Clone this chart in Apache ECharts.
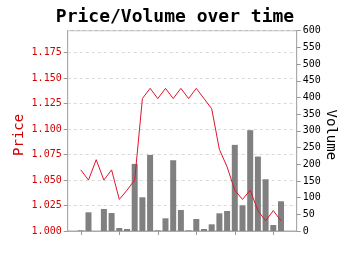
<!DOCTYPE html>
<html>
<head>
<meta charset="utf-8">
<script src="https://cdn.jsdelivr.net/npm/echarts@6/dist/echarts.min.js"></script>
<style>html,body{margin:0;padding:0;background:#fff;}#c{width:350px;height:255px;}</style>
</head>
<body>
<div id="c"></div>
<script>
var titleText = 'Price/Volume over time';
var xTicks = [0, 5, 10, 15, 20, 25];
var volume = [2, 56, 0, 66, 54, 9, 6, 201, 101, 228, 2, 38, 212, 63, 2, 36, 6, 20, 53, 60, 258, 77, 302, 223, 155, 18, 89];
var price = [1.060, 1.050, 1.070, 1.050, 1.060, 1.031, 1.040, 1.050, 1.130, 1.140, 1.130, 1.140, 1.130, 1.140, 1.130, 1.140, 1.130, 1.120, 1.080, 1.063, 1.040, 1.031, 1.040, 1.020, 1.010, 1.020, 1.010];

var red = '#d40000';
var mono = 'DejaVu Sans Mono';
var chart = echarts.init(document.getElementById('c'), null, {renderer: 'canvas'});
chart.setOption({
  animation: false,
  backgroundColor: '#fff',
  title: {
    text: titleText, left: 'center', top: 3,
    textStyle: {fontFamily: mono, fontWeight: 'bold', fontSize: 18, color: '#000'}
  },
  grid: {left: 67.7, right: 53.3, top: 30.7, bottom: 24, show: true, borderColor: '#aaa', borderWidth: 1, containLabel: false},
  xAxis: {
    type: 'value', min: -1.7, max: 28.04,
    axisLine: {onZero: false, lineStyle: {color: '#aaa'}},
    axisTick: {show: true, length: 4, lineStyle: {color: '#999'}, customValues: xTicks},
    axisLabel: {show: false},
    splitLine: {show: false}
  },
  yAxis: [{
    type: 'value', min: 1.0, max: 1.1966, interval: 0.025, position: 'left',
    name: 'Price', nameLocation: 'middle', nameGap: 41, nameRotate: 90, nameMoveOverlap: false,
    nameTextStyle: {fontFamily: mono, fontSize: 14, color: red, padding: [0, 8, 0, 0]},
    axisLine: {show: true, onZero: false, lineStyle: {color: '#aaa'}},
    axisTick: {show: true, length: 4, lineStyle: {color: '#999'}},
    axisLabel: {fontFamily: mono, fontSize: 10, color: red, margin: 6, showMaxLabel: false,
      formatter: function (v) { return v.toFixed(3); }},
    splitLine: {show: true, lineStyle: {color: '#d8d8d8', type: [3, 3], width: 1}}
  }, {
    type: 'value', min: 0, max: 600, interval: 50, position: 'right',
    name: 'Volume', nameLocation: 'middle', nameGap: 27, nameRotate: -90, nameMoveOverlap: false,
    nameTextStyle: {fontFamily: mono, fontSize: 14, color: '#000', padding: [0, 0, 0, 8]},
    axisLine: {show: true, onZero: false, lineStyle: {color: '#aaa'}},
    axisTick: {show: true, length: 4, lineStyle: {color: '#999'}},
    axisLabel: {fontFamily: mono, fontSize: 10, color: '#000', margin: 6},
    splitLine: {show: false}
  }],
  series: [{
    type: 'bar', yAxisIndex: 1, barWidth: 6,
    itemStyle: {color: '#808080'},
    data: volume.map(function (v, i) { return [i, v]; }),
    z: 2
  }, {
    type: 'line', yAxisIndex: 0, showSymbol: false, symbol: 'none',
    lineStyle: {color: '#e0142d', width: 1},
    data: price.map(function (v, i) { return [i, v]; }),
    z: 3
  }]
});
</script>
</body>
</html>
